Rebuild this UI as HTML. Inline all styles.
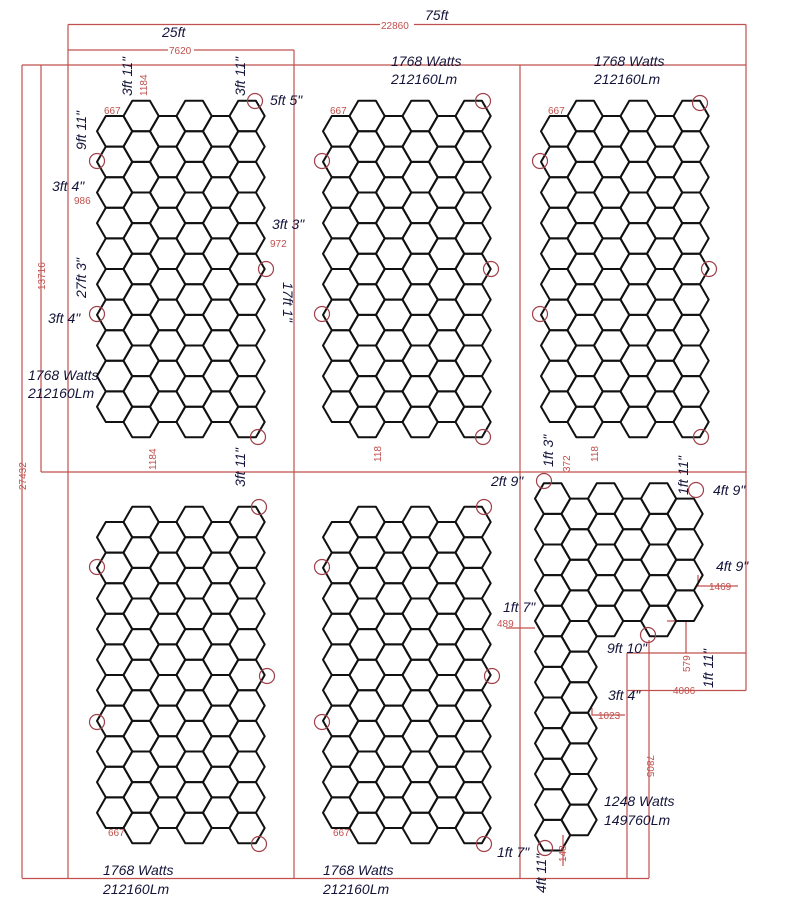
<!DOCTYPE html>
<html><head><meta charset="utf-8"><style>
html,body{margin:0;padding:0;background:#fff;}
svg{display:block;}
.t{font-family:"Liberation Sans",sans-serif;font-style:italic;font-size:14px;fill:#14143a;}
.d{font-family:"Liberation Sans",sans-serif;font-size:10px;fill:#c0504d;}
</style></head><body>
<svg id="s" width="803" height="922" viewBox="0 0 803 922" xmlns="http://www.w3.org/2000/svg">
<g stroke="#c0504d" stroke-width="1.2" fill="none">
<line x1="68" y1="24.5" x2="746" y2="24.5"/>
<line x1="68" y1="24.5" x2="68" y2="878"/>
<line x1="746" y1="24.5" x2="746" y2="690.5"/>
<line x1="68" y1="50" x2="294" y2="50"/>
<line x1="294" y1="50" x2="294" y2="878"/>
<line x1="22" y1="65" x2="746" y2="65"/>
<line x1="22" y1="65" x2="22" y2="878"/>
<line x1="41" y1="65" x2="41" y2="472"/>
<line x1="41" y1="472" x2="746" y2="472"/>
<line x1="520" y1="65" x2="520" y2="878"/>
<line x1="22" y1="878.5" x2="649" y2="878.5"/>
<line x1="627" y1="653" x2="746" y2="653"/>
<line x1="627" y1="690.5" x2="746" y2="690.5"/>
<line x1="627" y1="653" x2="627" y2="878"/>
<line x1="649" y1="640" x2="649" y2="878"/>
<polyline points="667,621 686,621 686,653"/>
<polyline points="698,575 698,586 738,586"/>
<polyline points="506,628 535,628"/>
<polyline points="592,708 592,715 625,715"/>
<polyline points="563,835 563,866"/>
</g>
<g id="h" stroke="#111" stroke-width="2" fill="none" stroke-linejoin="round"></g>
<g id="c" stroke="#a0404a" stroke-width="1.2" fill="none"></g>
<g class="d">
<rect x="380" y="19" width="34" height="11" fill="#fff"/><text x="381" y="29">22860</text>
<rect x="168" y="45" width="26" height="11" fill="#fff"/><text x="169" y="54">7620</text>
<text x="104" y="114">667</text><text x="330" y="114">667</text><text x="548" y="114">667</text>
<text x="74" y="204">986</text><text x="270" y="247">972</text>
<text x="709" y="590">1469</text><text x="497" y="627">489</text>
<text x="673" y="694">4006</text><text x="598" y="719">1023</text>
<text x="108" y="836">667</text><text x="333" y="836">667</text>
<text transform="translate(147,96) rotate(-90)">1184</text>
<text transform="translate(156,470) rotate(-90)">1184</text>
<text transform="translate(381,462) rotate(-90)">118</text>
<text transform="translate(598,462) rotate(-90)">118</text>
<text transform="translate(570,472) rotate(-90)">372</text>
<text transform="translate(45,290) rotate(-90)">13716</text>
<text transform="translate(26,490) rotate(-90)">27432</text>
<text transform="translate(690,672) rotate(-90)">579</text>
<text transform="translate(647,755) rotate(90)">7805</text>
<text transform="translate(566,862) rotate(-90)">148</text>
</g>
<g class="t">
<text x="425" y="20">75ft</text><text x="162" y="37">25ft</text>
<text x="391" y="66">1768 Watts</text><text x="391" y="84">212160Lm</text>
<text x="594" y="66">1768 Watts</text><text x="594" y="84">212160Lm</text>
<text x="28" y="380">1768 Watts</text><text x="28" y="398">212160Lm</text>
<text x="103" y="875">1768 Watts</text><text x="103" y="894">212160Lm</text>
<text x="323" y="875">1768 Watts</text><text x="323" y="894">212160Lm</text>
<text x="604" y="806">1248 Watts</text><text x="604" y="825">149760Lm</text>
<text x="270" y="105">5ft 5"</text><text x="52" y="191">3ft 4"</text>
<text x="272" y="229">3ft 3"</text><text x="48" y="323">3ft 4"</text>
<text x="491" y="486">2ft 9"</text><text x="713" y="495">4ft 9"</text>
<text x="716" y="571">4ft 9"</text><text x="503" y="612">1ft 7"</text>
<text x="607" y="653">9ft 10"</text><text x="608" y="700">3ft 4"</text>
<text x="497" y="857">1ft 7"</text>
<text transform="translate(132,96) rotate(-90)">3ft 11"</text>
<text transform="translate(245,96) rotate(-90)">3ft 11"</text>
<text transform="translate(86,150) rotate(-90)">9ft 11"</text>
<text transform="translate(86,298) rotate(-90)">27ft 3"</text>
<text transform="translate(283,282) rotate(90)">17ft 1"</text>
<text transform="translate(245,487) rotate(-90)">3ft 11"</text>
<text transform="translate(553,467) rotate(-90)">1ft 3"</text>
<text transform="translate(688,495) rotate(-90)">1ft 11"</text>
<text transform="translate(713,688) rotate(-90)">1ft 11"</text>
<text transform="translate(546,893) rotate(-90)">4ft 11"</text>
</g>
</svg>
<script>
(function(){
var NS="http://www.w3.org/2000/svg",g=document.getElementById("h"),cg=document.getElementById("c");
var r=17.6,h=30.6,dx=26.5;
function hex(x,t){var cy=t+h/2;var p=[[x,cy],[x+r/2,t],[x+1.5*r,t],[x+2*r,cy],[x+1.5*r,t+h],[x+r/2,t+h]];
var e=document.createElementNS(NS,"polygon");e.setAttribute("points",p.map(function(q){return q[0].toFixed(1)+","+q[1].toFixed(1)}).join(" "));g.appendChild(e);}
function grid(x0,yTop,counts,evenHigh){for(var c=0;c<counts.length;c++){var high=evenHigh?(c%2==0):(c%2==1);var t=high?yTop:yTop+h/2;for(var i=0;i<counts[c];i++)hex(x0+c*dx,t+i*h);}}
var std=[10,11,10,11,10,11];
grid(97,100.7,std,false);grid(323,100.7,std,false);grid(541,100.7,std,false);
grid(97,506.7,std,false);grid(323,506.7,std,false);
grid(535,483.3,[12,11,5,4,5,4],true);
var circ=[[255,101],[97,161],[266,269],[97,314],[258,437],
[483,101],[322,161],[491,269],[322,314],[483,437],
[700,103],[540,161],[709,269],[540,314],[701,437],
[259,507],[97,567],[267,676],[97,722],[259,844],
[484,507],[322,567],[492,676],[322,722],[484,844],
[544,481],[696,490],[648,635],[545,848]];
circ.forEach(function(p){var e=document.createElementNS(NS,"circle");e.setAttribute("cx",p[0]);e.setAttribute("cy",p[1]);e.setAttribute("r",7.5);cg.appendChild(e);});
})();
</script>
</body></html>
